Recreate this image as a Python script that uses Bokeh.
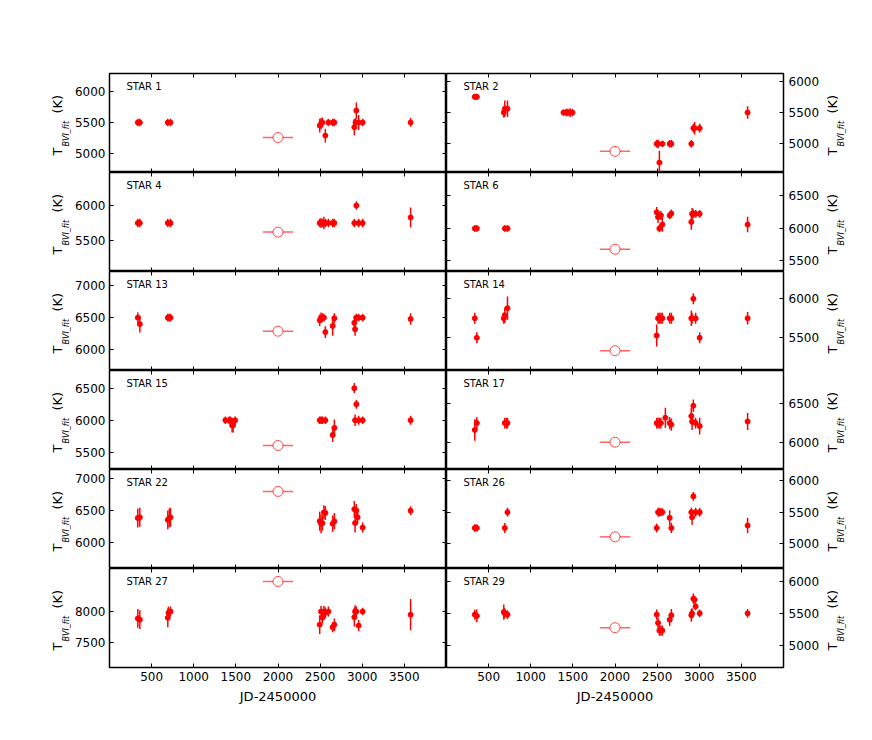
import numpy as np
from bokeh.plotting import figure
from bokeh.models import (Range1d, LinearAxis, FixedTicker, CustomJSTickFormatter,
                          Label, ColumnDataSource, Grid)
from bokeh.layouts import gridplot, row
from bokeh.core.properties import value
from bokeh.embed import file_html
from bokeh.resources import INLINE

# ---------------- data ----------------
NAMES = ["STAR 1", "STAR 2", "STAR 4", "STAR 6", "STAR 13", "STAR 14",
         "STAR 15", "STAR 17", "STAR 22", "STAR 26", "STAR 27", "STAR 29"]

s1_jd = [336, 360, 692, 724, 2495, 2511, 2527, 2562, 2598, 2649, 2669, 2906, 2920, 2930, 2957, 3005, 3574]
s1_t = [5500, 5500, 5500, 5500, 5450, 5480, 5500, 5290, 5500, 5500, 5500, 5425, 5500, 5690, 5500, 5500, 5500]
s1_e = [60, 60, 60, 60, 110, 90, 80, 110, 60, 60, 60, 130, 70, 130, 120, 60, 70]

s2_jd = [336, 360, 680, 692, 724, 1389, 1420, 1441, 1468, 1495, 2495, 2511, 2527, 2562, 2649, 2669, 2906, 2930, 2945, 3005, 3574]
s2_t = [5750, 5750, 5500, 5560, 5560, 5500, 5500, 5500, 5500, 5500, 5000, 5000, 4700, 5000, 5000, 5000, 5000, 5250, 5250, 5250, 5500]
s2_e = [50, 50, 80, 130, 130, 50, 60, 60, 70, 60, 60, 70, 190, 50, 60, 60, 60, 70, 100, 70, 100]

s4_jd = [336, 360, 692, 724, 2495, 2511, 2527, 2545, 2562, 2598, 2649, 2669, 2906, 2930, 2957, 3005, 3574]
s4_t = [5750, 5750, 5750, 5750, 5750, 5750, 5750, 5750, 5750, 5750, 5750, 5750, 5750, 6000, 5750, 5750, 5830]
s4_e = [60, 60, 60, 60, 60, 70, 60, 90, 60, 60, 60, 60, 60, 60, 60, 60, 140]

s6_jd = [336, 360, 692, 724, 2495, 2511, 2527, 2545, 2562, 2649, 2669, 2906, 2915, 2930, 2957, 3005, 3574]
s6_t = [6000, 6000, 6000, 6000, 6250, 6175, 6000, 6200, 6060, 6200, 6230, 6100, 6225, 6225, 6225, 6225, 6060]
s6_e = [50, 50, 50, 50, 80, 90, 60, 70, 110, 60, 60, 120, 90, 70, 60, 60, 120]

s13_jd = [336, 360, 692, 710, 724, 2495, 2511, 2527, 2545, 2562, 2649, 2669, 2906, 2915, 2930, 2957, 3005, 3574]
s13_t = [6500, 6400, 6500, 6500, 6500, 6460, 6500, 6500, 6500, 6275, 6370, 6490, 6420, 6320, 6500, 6500, 6500, 6480]
s13_e = [80, 130, 60, 60, 60, 90, 80, 70, 60, 90, 150, 80, 110, 100, 60, 60, 60, 90]

s14_jd = [336, 360, 680, 692, 724, 2495, 2511, 2527, 2545, 2562, 2649, 2669, 2906, 2915, 2930, 2957, 3005, 3574]
s14_t = [5750, 5500, 5750, 5790, 5880, 5530, 5750, 5750, 5750, 5750, 5750, 5750, 5750, 5750, 6000, 5750, 5500, 5750]
s14_e = [70, 70, 70, 100, 150, 140, 70, 70, 70, 70, 70, 70, 100, 70, 70, 70, 70, 80]

s15_jd = [1376, 1420, 1435, 1455, 1467, 1491, 2495, 2511, 2527, 2562, 2649, 2669, 2906, 2915, 2930, 2957, 3005, 3574]
s15_t = [6000, 6000, 6000, 5920, 5920, 6000, 6000, 6000, 6000, 6000, 5770, 5880, 6500, 6000, 6250, 6000, 6000, 6000]
s15_e = [60, 60, 60, 110, 110, 60, 60, 60, 60, 60, 110, 130, 80, 90, 70, 70, 60, 70]

s17_jd = [336, 360, 692, 710, 724, 2495, 2511, 2527, 2545, 2598, 2649, 2669, 2906, 2915, 2930, 2957, 3005, 3574]
s17_t = [6160, 6250, 6250, 6250, 6250, 6250, 6250, 6250, 6250, 6320, 6250, 6230, 6340, 6270, 6475, 6250, 6210, 6270]
s17_e = [140, 80, 70, 70, 70, 70, 70, 70, 70, 130, 80, 80, 110, 110, 80, 70, 110, 110]

s22_jd = [336, 360, 692, 710, 724, 2495, 2511, 2527, 2545, 2562, 2649, 2669, 2906, 2915, 2930, 2945, 3005, 3574]
s22_t = [6380, 6390, 6350, 6380, 6390, 6330, 6290, 6300, 6470, 6460, 6290, 6330, 6520, 6300, 6500, 6390, 6230, 6495]
s22_e = [150, 150, 150, 150, 150, 150, 150, 120, 110, 110, 130, 130, 130, 150, 100, 100, 80, 70]

s26_jd = [336, 360, 692, 724, 2495, 2511, 2527, 2545, 2562, 2649, 2669, 2906, 2915, 2930, 2957, 3005, 3574]
s26_t = [5250, 5250, 5250, 5500, 5250, 5500, 5500, 5500, 5500, 5410, 5250, 5500, 5420, 5750, 5500, 5500, 5290]
s26_e = [60, 60, 80, 70, 70, 70, 70, 60, 60, 120, 80, 70, 120, 70, 70, 70, 120]

s27_jd = [336, 360, 692, 700, 724, 2495, 2511, 2527, 2545, 2562, 2598, 2649, 2669, 2906, 2915, 2930, 2957, 3005, 3574]
s27_t = [7890, 7870, 7900, 7980, 8000, 7790, 8000, 7900, 8000, 7980, 8000, 7750, 7790, 7910, 8000, 8000, 7775, 8000, 7950]
s27_e = [150, 150, 150, 100, 80, 150, 90, 90, 90, 90, 80, 80, 100, 150, 100, 80, 90, 60, 250]

s29_jd = [336, 360, 680, 692, 724, 2495, 2511, 2527, 2545, 2562, 2649, 2669, 2906, 2915, 2930, 2945, 2957, 3005, 3574]
s29_t = [5480, 5460, 5520, 5500, 5480, 5480, 5350, 5230, 5230, 5230, 5400, 5470, 5470, 5500, 5730, 5715, 5610, 5500, 5500]
s29_e = [80, 100, 120, 80, 70, 80, 80, 80, 80, 80, 100, 100, 100, 80, 80, 60, 60, 60, 70]

# reference (open circle) point: JD 2000 +/- 180
REF_JD = 2000
REF_JD_ERR = 180
ref_t = [5260, 4880, 5620, 5680, 6290, 5335, 5605, 6000, 6800, 5110, 8480, 5275]

SERIES = [(s1_jd, s1_t, s1_e), (s2_jd, s2_t, s2_e), (s4_jd, s4_t, s4_e), (s6_jd, s6_t, s6_e),
          (s13_jd, s13_t, s13_e), (s14_jd, s14_t, s14_e), (s15_jd, s15_t, s15_e), (s17_jd, s17_t, s17_e),
          (s22_jd, s22_t, s22_e), (s26_jd, s26_t, s26_e), (s27_jd, s27_t, s27_e), (s29_jd, s29_t, s29_e)]

X_RANGE = (0, 4000)
X_TICKS = [500, 1000, 1500, 2000, 2500, 3000, 3500]
Y_RANGES = [(4700, 6283), (4542, 6123), (5057, 6472), (5338, 6861), (5678, 7218), (5081, 6350),
            (5230, 6777), (5645, 6934), (5581, 7147), (4610, 6174), (7106, 8687), (4650, 6204)]
Y_TICKS = [[5000, 5500, 6000], [5000, 5500, 6000], [5500, 6000], [5500, 6000, 6500],
           [6000, 6500, 7000], [5500, 6000], [5500, 6000, 6500], [6000, 6500],
           [6000, 6500, 7000], [5000, 5500, 6000], [7500, 8000], [5000, 5500, 6000]]
Y_LABEL_PARTS = ["T", "BVI_fit", "(K)"]
X_LABEL = "JD-2450000"

# ---------------- layout / style ----------------
FONT = "DejaVu Sans"
RED = "#ff0000"
FRAME_H = 99
TOP = 73
BOTTOM = 60
TOTAL_H = TOP + 6 * FRAME_H + BOTTOM
LAB_L_W = 71
LAB_R_W = 50
LEFT_B = 109 - LAB_L_W
RIGHT_B = 38


def style_axis(ax, labels=True):
    ax.axis_line_color = None
    ax.major_tick_in = 4
    ax.major_tick_out = 0
    ax.minor_tick_in = 0
    ax.minor_tick_out = 0
    ax.major_tick_line_color = "black"
    ax.major_tick_line_width = 1
    ax.major_label_text_font = FONT
    ax.major_label_text_font_size = "12px"
    ax.major_label_text_color = "black"
    ax.major_label_standoff = 4
    if not labels:
        ax.formatter = CustomJSTickFormatter(code="return ''")


def panel(i):
    jd, t, e = SERIES[i]
    r, col = divmod(i, 2)
    top = TOP if r == 0 else 0
    bottom = BOTTOM if r == 5 else 0
    fw = 337 if col == 0 else 338
    left = LEFT_B if col == 0 else 0
    right = 0 if col == 0 else RIGHT_B
    ys, ye = Y_RANGES[i]
    p = figure(width=left + fw + right, height=top + FRAME_H + bottom,
               x_range=Range1d(*X_RANGE), y_range=Range1d(ys, ye),
               x_axis_location=None, y_axis_location=None,
               output_backend="svg", toolbar_location=None,
               min_border_left=left, min_border_right=right,
               min_border_top=top, min_border_bottom=bottom,
               background_fill_color="white", border_fill_color="white",
               outline_line_color="black", outline_line_width=1.5)
    for g in list(p.center):
        if isinstance(g, Grid):
            g.visible = False

    yt = FixedTicker(ticks=Y_TICKS[i], minor_ticks=[])
    xt = FixedTicker(ticks=X_TICKS, minor_ticks=[])

    main_y = LinearAxis(ticker=yt)
    style_axis(main_y)
    if col == 1:
        main_y.major_label_standoff = 5
    other_y = LinearAxis(ticker=yt, fixed_location=(X_RANGE[1] if col == 0 else X_RANGE[0]))
    style_axis(other_y, labels=False)
    if col == 0:
        p.add_layout(main_y, "left")
        p.add_layout(other_y, "right")
    else:
        p.add_layout(main_y, "right")
        p.add_layout(other_y, "left")

    ax_top = LinearAxis(ticker=xt, fixed_location=ye)
    style_axis(ax_top, labels=False)
    p.add_layout(ax_top, "above")
    if r == 5:
        ax_bot = LinearAxis(ticker=xt, axis_label=X_LABEL)
        style_axis(ax_bot)
        ax_bot.axis_label_text_font = FONT
        ax_bot.axis_label_text_font_size = "13px"
        ax_bot.axis_label_text_font_style = "normal"
        ax_bot.axis_label_text_color = "black"
        ax_bot.axis_label_standoff = 5
    else:
        ax_bot = LinearAxis(ticker=xt, fixed_location=ys)
        style_axis(ax_bot, labels=False)
    p.add_layout(ax_bot, "below")

    jd = np.array(jd, dtype=float)
    t = np.array(t, dtype=float)
    e = np.array(e, dtype=float)
    src = ColumnDataSource(dict(x=jd, y=t, lo=t - e, hi=t + e))
    p.segment(x0="x", y0="lo", x1="x", y1="hi", source=src, line_color=RED, line_width=1.5)
    p.scatter(x="x", y="y", source=src, size=5, marker="circle",
              fill_color=RED, line_color=RED)

    rsrc = ColumnDataSource(dict(x=[REF_JD], y=[ref_t[i]],
                                 lo=[REF_JD - REF_JD_ERR], hi=[REF_JD + REF_JD_ERR]))
    p.segment(x0="lo", y0="y", x1="hi", y1="y", source=rsrc,
              line_color=RED, line_alpha=0.6, line_width=1.5)
    p.scatter(x="x", y="y", source=rsrc, size=10, marker="circle",
              fill_color="white", line_color=RED, line_alpha=0.7, line_width=1)

    p.add_layout(Label(x=17, y=92, x_units="screen", y_units="screen", text=NAMES[i],
                       text_font=FONT, text_font_size="10px", text_baseline="top",
                       text_align="left", text_color="black"))
    return p


def label_strip(width, x_main, x_sub):
    """A blank strip holding the rotated y-axis titles of the six rows."""
    p = figure(width=width, height=TOTAL_H, x_range=Range1d(0, width), y_range=Range1d(0, TOTAL_H),
               x_axis_location=None, y_axis_location=None, output_backend="svg",
               toolbar_location=None, min_border=0, outline_line_color=None,
               background_fill_color="white", border_fill_color="white")
    for g in list(p.center):
        if isinstance(g, Grid):
            g.visible = False
    for r in range(6):
        top = TOP + r * FRAME_H
        ys_main = [TOTAL_H - (top + 82), TOTAL_H - (top + 40)]
        ys_sub = [TOTAL_H - (top + 73)]
        p.text(x=[x_main, x_main], y=ys_main, text=[Y_LABEL_PARTS[0], Y_LABEL_PARTS[2]],
               angle=np.pi / 2, text_font=value(FONT), text_font_size=value("13px"),
               text_align="left", text_baseline="middle", text_color="black")
        p.text(x=[x_sub], y=ys_sub, text=[Y_LABEL_PARTS[1]],
               angle=np.pi / 2, text_font=value(FONT), text_font_size=value("8px"),
               text_font_style="italic",
               text_align="left", text_baseline="middle", text_color="black")
    return p


figs = [panel(i) for i in range(12)]
rows = [[figs[2 * k], figs[2 * k + 1]] for k in range(6)]
grid = gridplot(rows, toolbar_location=None)

lab_left = label_strip(LAB_L_W, 57, 66)
lab_right = label_strip(LAB_R_W, 10, 19)

page = row(lab_left, grid, lab_right)
open("out.html", "w").write(file_html(page, INLINE, title="Temperatures"))
